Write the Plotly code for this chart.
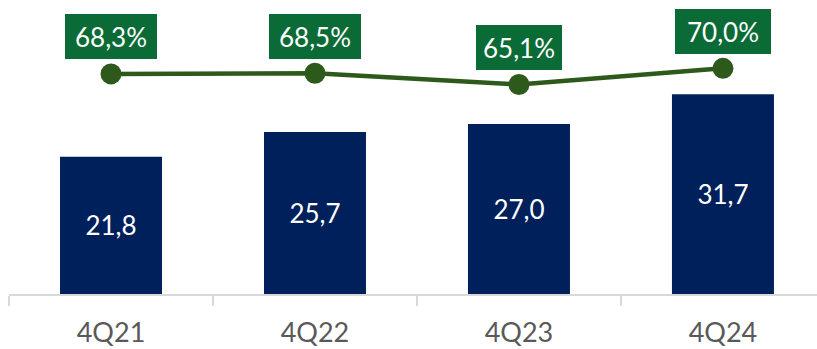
import plotly.graph_objects as go

# Quarterly data
categories = ["4Q21", "4Q22", "4Q23", "4Q24"]
volume = [21.8, 25.7, 27.0, 31.7]
margin_pct = [68.3, 68.5, 65.1, 70.0]
volume_labels = ["21,8", "25,7", "27,0", "31,7"]
margin_labels = ["68,3%", "68,5%", "65,1%", "70,0%"]

NAVY = "#00205b"
LINE_GREEN = "#2d5a1b"
BOX_GREEN = "#0a6b36"
AXIS_GREY = "#d9d9d9"
TEXT_GREY = "#595959"
FONT = "Lato"

# inner width of each label box (px)
box_widths = [80, 80, 74, 84]

fig = go.Figure()

fig.add_trace(go.Bar(
    x=categories,
    y=volume,
    width=0.5,
    marker=dict(color=NAVY, line=dict(width=0)),
    text=volume_labels,
    textposition="inside",
    insidetextanchor="middle",
    textangle=0,
    textfont=dict(family=FONT, size=26, color="white"),
    hoverinfo="skip",
))

fig.add_trace(go.Scatter(
    x=categories,
    y=margin_pct,
    yaxis="y2",
    mode="lines+markers",
    line=dict(color=LINE_GREEN, width=4.5),
    marker=dict(color=LINE_GREEN, size=21),
    hoverinfo="skip",
))

# Percentage labels in filled boxes above each point
for cat, val, lab, w in zip(categories, margin_pct, margin_labels, box_widths):
    fig.add_annotation(
        x=cat, y=val, xref="x", yref="y2",
        yshift=37,
        text=lab,
        showarrow=False,
        bgcolor=BOX_GREEN,
        borderwidth=0,
        borderpad=6,
        width=w,
        height=33,
        align="center",
        valign="middle",
        font=dict(family=FONT, size=26, color="white"),
    )

fig.update_layout(
    width=817,
    height=349,
    margin=dict(l=9, r=0, t=0, b=55),
    paper_bgcolor="white",
    plot_bgcolor="white",
    showlegend=False,
    bargap=0.5,
    xaxis=dict(
        type="category",
        range=[-0.5, 3.461],
        tickson="boundaries",
        ticks="outside",
        ticklen=10,
        tickwidth=2,
        tickcolor=AXIS_GREY,
        showline=True,
        linecolor=AXIS_GREY,
        linewidth=2,
        showgrid=False,
        ticklabelstandoff=14,
        tickfont=dict(family=FONT, size=27, color=TEXT_GREY),
        fixedrange=True,
    ),
    yaxis=dict(
        range=[0, 46.67],
        visible=False,
        showgrid=False,
        zeroline=False,
        fixedrange=True,
    ),
    yaxis2=dict(
        range=[1.62, 90.7],
        overlaying="y",
        visible=False,
        showgrid=False,
        zeroline=False,
        fixedrange=True,
    ),
)

fig.write_html("out.html", config={"displayModeBar": False})
